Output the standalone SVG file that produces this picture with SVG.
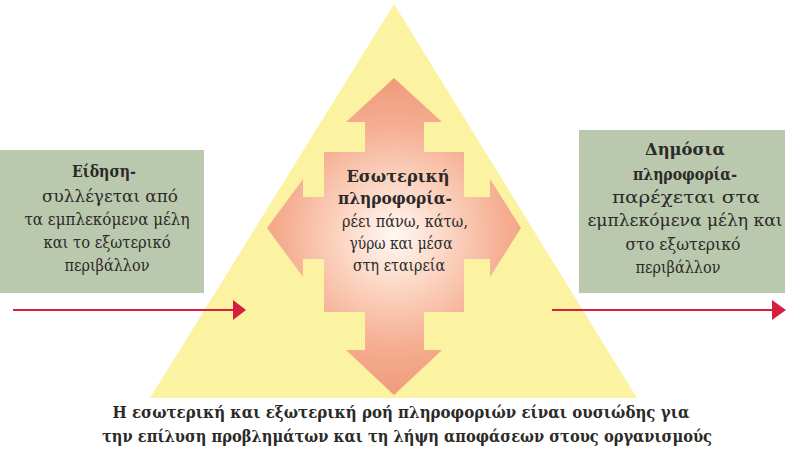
<svg xmlns="http://www.w3.org/2000/svg" width="811" height="456" viewBox="0 0 811 456">
<defs>
<style>
.t{font-family:"DejaVu Serif","Liberation Serif",serif;font-size:16.5px;fill:#2b2a28;text-anchor:middle}
.b{font-weight:bold}
.cap{font-size:17px}
.box{fill:#bac8ae}
.conn{stroke:#d71f3d;stroke-width:2.2;fill:none}
.head{fill:#d71f3d}
</style>
<radialGradient id="cg" gradientUnits="userSpaceOnUse" cx="394" cy="236" r="160">
<stop offset="0" stop-color="#fff8f3"/>
<stop offset="0.3" stop-color="#fcd9c8"/>
<stop offset="0.7" stop-color="#f5ad90"/>
<stop offset="1" stop-color="#f09a7b"/>
</radialGradient>
</defs>
<rect width="811" height="456" fill="#ffffff"/>
<g id="pyramid">
<polygon points="394,4 150,398 637,398" fill="#fbf3a2"/>
</g>
<g id="internal">
<path d="M394,78 L442,122 L424,122 L424,152 L464,152 L464,197 L490,197 L490,179 L521,228 L490,277 L490,259 L464,259 L464,312 L424,312 L424,350 L442,350 L394,395 L346,350 L365,350 L365,312 L324,312 L324,259 L303,259 L303,277 L267,228 L303,179 L303,197 L324,197 L324,152 L365,152 L365,122 L346,122 Z" fill="url(#cg)"/>
<text class="t b" x="398" y="182" textLength="103" lengthAdjust="spacingAndGlyphs">Εσωτερική</text>
<text class="t b" x="395" y="204" textLength="114" lengthAdjust="spacingAndGlyphs">πληροφορία-</text>
<text class="t" x="405" y="227" textLength="126" lengthAdjust="spacingAndGlyphs">ρέει πάνω, κάτω,</text>
<text class="t" x="401" y="249" textLength="103" lengthAdjust="spacingAndGlyphs">γύρω και μέσα</text>
<text class="t" x="399" y="271" textLength="92" lengthAdjust="spacingAndGlyphs">στη εταιρεία</text>
</g>
<g id="news">
<rect class="box" x="0" y="150" width="204" height="143"/>
<text class="t b" x="104" y="177" textLength="64" lengthAdjust="spacingAndGlyphs">Είδηση-</text>
<text class="t" x="110" y="202" textLength="136" lengthAdjust="spacingAndGlyphs">συλλέγεται από</text>
<text class="t" x="107" y="225" textLength="165" lengthAdjust="spacingAndGlyphs">τα εμπλεκόμενα μέλη</text>
<text class="t" x="107" y="248" textLength="127" lengthAdjust="spacingAndGlyphs">και το εξωτερικό</text>
<text class="t" x="107" y="271" textLength="85" lengthAdjust="spacingAndGlyphs">περιβάλλον</text>
</g>
<g id="public">
<rect class="box" x="579" y="130" width="206" height="163"/>
<text class="t b" x="685" y="155" textLength="80" lengthAdjust="spacingAndGlyphs">Δημόσια</text>
<text class="t b" x="685" y="180" textLength="104" lengthAdjust="spacingAndGlyphs">πληροφορία-</text>
<text class="t" x="686" y="203" textLength="148" lengthAdjust="spacingAndGlyphs">παρέχεται στα</text>
<text class="t" x="685" y="226" textLength="195" lengthAdjust="spacingAndGlyphs">εμπλεκόμενα μέλη και</text>
<text class="t" x="683" y="250" textLength="115" lengthAdjust="spacingAndGlyphs">στο εξωτερικό</text>
<text class="t" x="678" y="273" textLength="85" lengthAdjust="spacingAndGlyphs">περιβάλλον</text>
</g>
<g id="connectors">
<line class="conn" x1="13" y1="310" x2="236" y2="310"/>
<polygon class="head" points="233,300 246,310 233,320"/>
<line class="conn" x1="552" y1="310" x2="774" y2="310"/>
<polygon class="head" points="772,300 786,310 772,320"/>
</g>
<g id="caption">
<text class="t b cap" x="401" y="418" textLength="577" lengthAdjust="spacingAndGlyphs">Η εσωτερική και εξωτερική ροή πληροφοριών είναι ουσιώδης για</text>
<text class="t b cap" x="407" y="442" textLength="610" lengthAdjust="spacingAndGlyphs">την επίλυση προβλημάτων και τη λήψη αποφάσεων στους οργανισμούς</text>
</g>
</svg>
